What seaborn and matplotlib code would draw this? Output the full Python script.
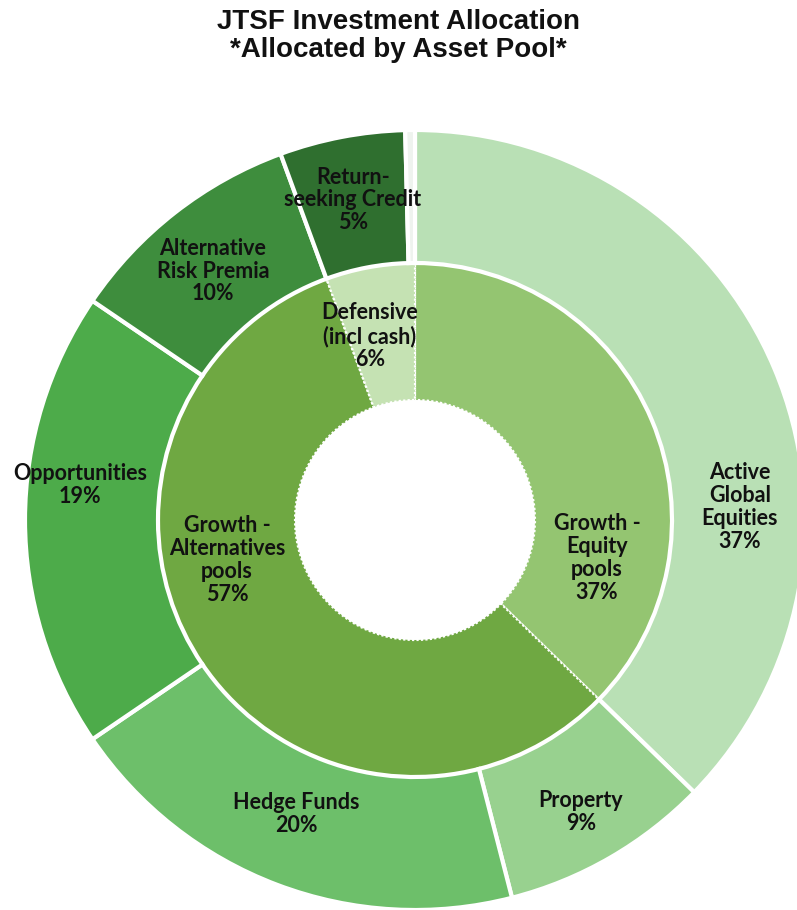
import matplotlib
matplotlib.use("Agg")
import matplotlib.pyplot as plt
import seaborn as sns

# ---------------- data ----------------
outer_labels = ["Active\nGlobal\nEquities\n37%", "Property\n9%", "Hedge Funds\n20%",
                "Opportunities\n19%", "Alternative\nRisk Premia\n10%",
                "Return-\nseeking Credit\n5%", ""]
outer_values = [37.3, 8.7, 19.5, 19.0, 9.9, 5.2, 0.4]
outer_colors = ["#b9e0b5", "#98d18f", "#6dbf6a", "#4dab4a", "#3e8d3d", "#2f6f2f", "#eef3ee"]

inner_labels = ["Growth -\nEquity\npools\n37%", "Growth -\nAlternatives\npools\n57%",
                "Defensive\n(incl cash)\n6%"]
inner_values = [37.3, 57.1, 5.6]
inner_colors = ["#94c571", "#6fa842", "#c5e2b3"]

title = "JTSF Investment Allocation\n*Allocated by Asset Pool*"

# ---------------- layout (pixel space) ----------------
W, H = 797, 910
cx, cy = 415, H - 520
r_outer, r_mid, r_hole = 390, 257, 120

outer_label_pos = [(740, 507), (581, 812), (296, 814), (80, 485), (213, 271), (353, 200), None]
inner_label_pos = [(597, 558), (227, 560), (370, 336)]

sns.set_theme(style="white")
plt.rcParams["font.family"] = ["Lato", "DejaVu Sans"]

fig = plt.figure(figsize=(W / 100, H / 100), dpi=100)
ax = fig.add_axes([0, 0, 1, 1])

ax.pie(inner_values, radius=r_mid, center=(cx, cy), startangle=90, counterclock=False,
       colors=inner_colors,
       wedgeprops=dict(width=r_mid - r_hole, edgecolor="white", linewidth=1.6,
                       linestyle=(0, (1, 1))))
ax.pie(outer_values, radius=r_outer, center=(cx, cy), startangle=90, counterclock=False,
       colors=outer_colors,
       wedgeprops=dict(width=r_outer - r_mid, edgecolor="white", linewidth=3))

for lab, pos in zip(outer_labels + inner_labels, outer_label_pos + inner_label_pos):
    if pos is None or not lab:
        continue
    ax.text(pos[0], H - pos[1], lab, ha="center", va="center", fontsize=15.5,
            fontweight="bold", color="#111111", linespacing=1.1)

ax.set_xlim(0, W)
ax.set_ylim(0, H)
ax.set_aspect("equal", adjustable="box")
ax.axis("off")

fig.text(0.5, 1 - 36 / H, title, ha="center", va="center", fontsize=20,
         fontweight="bold", family=["Liberation Sans", "DejaVu Sans"],
         linespacing=1.1, color="#111111")

fig.savefig("out.png", dpi=100, facecolor="white")
